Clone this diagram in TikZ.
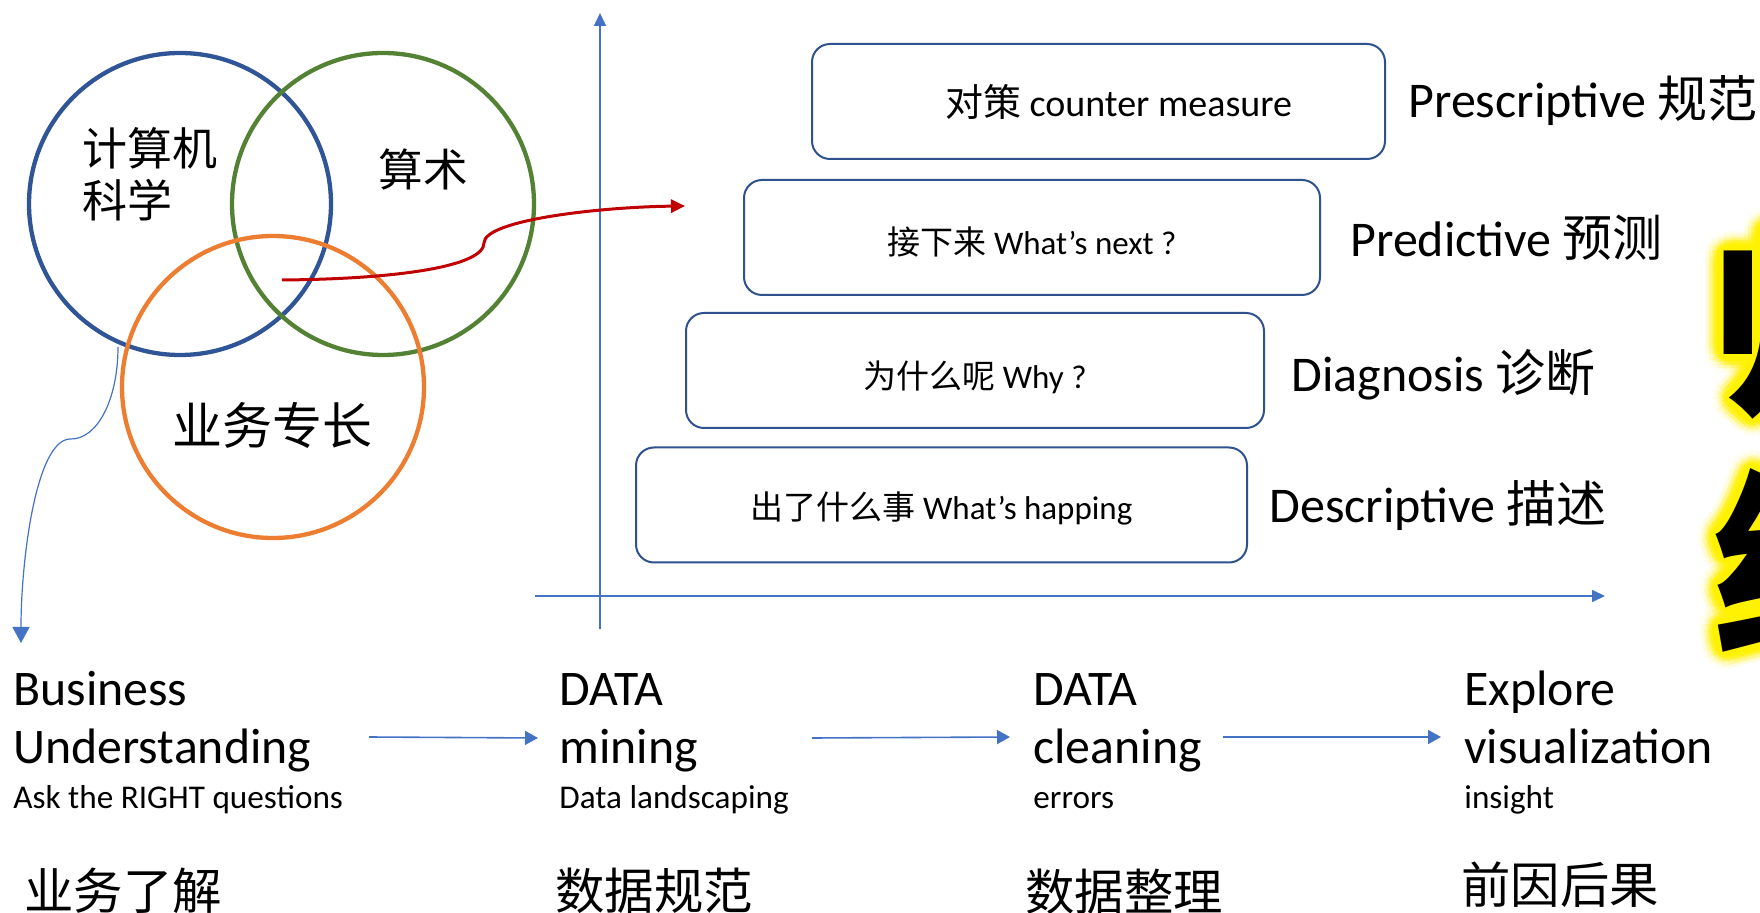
\documentclass[tikz,border=0pt]{standalone}
\usepackage{fontspec}
\setmainfont{Carlito}
\newfontfamily\cjk{Noto Sans CJK SC}
\usetikzlibrary{arrows.meta,calc}
\newcommand\pxf[2]{\fontsize{#1pt}{#2pt}\selectfont}
\newcommand\bl[2]{\raisebox{-#1pt}[0pt][0pt]{#2}}
\definecolor{vblue}{HTML}{2F5597}
\definecolor{vgreen}{HTML}{548235}
\definecolor{vorange}{HTML}{ED7D31}
\definecolor{vred}{HTML}{C00000}
\definecolor{ablue}{HTML}{4472C4}
\definecolor{bxblue}{HTML}{2F528F}
\newcommand\glowchar[2]{%
  \foreach \r/\o in {19/0.06,15/0.12,11/0.25,7/0.5,3.5/1}{%
    \foreach \a in {0,22.5,...,337.5}{%
      \node[glyph,text=yellow,text opacity=\o] at ($(#1)+(\a:\r)$) {#2};
    }%
  }%
  \node[glyph] at (#1) {#2};
}
\begin{document}
\begin{tikzpicture}[x=0.5pt,y=-0.5pt,
  venn/.style={circle,draw,line width=2.15pt,minimum size=151pt,inner sep=0pt},
  boxstyle/.style={draw=bxblue,line width=1pt,rounded corners=9pt,minimum height=57.5pt,inner sep=0pt,font=\pxf{16.5}{20}},
  rlabel/.style={anchor=base west,inner sep=0pt,font=\pxf{25}{30}},
  big/.style={anchor=base west,inner sep=0pt,font=\pxf{24.9}{29}},
  small/.style={anchor=base west,inner sep=0pt,font=\pxf{16.6}{19}},
  cjkbig/.style={inner sep=0pt,font=\cjk\pxf{24.7}{30}},
  axis/.style={ablue,line width=0.75pt,-{Triangle[length=6.5pt,width=6pt]}},
  flow/.style={ablue,line width=0.8pt,-{Triangle[length=6.5pt,width=7pt]}},
  glyph/.style={anchor=base west,inner sep=0pt,font=\cjk\bfseries\pxf{100}{100}}]
\useasboundingbox (0,0) rectangle (1760,913);
\fill[white] (0,0) rectangle (1760,913);

% glowing characters at right edge
\coordinate (g1) at (1713,398);
\coordinate (g2) at (1713,640);
\glowchar{g1}{归}
\glowchar{g2}{纳}

% Venn circles
\node[venn,draw=vblue] (cs) at (180,204) {};
\node[venn,draw=vgreen] (math) at (383,204) {};
\node[venn,draw=vorange] (biz) at (273,387) {};
\node[inner sep=0pt,align=left,font=\cjk\pxf{22.5}{26}] (tcs) at (150,174) {计算机\\科学};
\node[inner sep=0pt,font=\cjk\pxf{22.3}{26}] (tmath) at (423,169) {算术};
\node[inner sep=0pt,font=\cjk\pxf{25}{30}] (tbiz) at (272,425) {业务专长};

% axes
\coordinate (yb) at (600,629);
\coordinate (yt) at (600,13);
\coordinate (xl) at (535,596);
\coordinate (xr) at (1605,596);
\draw[axis] (yb) -- (yt);
\draw[axis] (xl) -- (xr);

% boxes
\node[boxstyle,minimum width=286.5pt,font=\pxf{19}{22}] (b1) at (1098.5,101.5) {\bl{7.75}{\hspace*{20pt}{\cjk 对策} counter measure}};
\node[boxstyle,minimum width=288pt] (b2) at (1032,237.5) {\bl{8.75}{{\cjk 接下来} What’s next ?}};
\node[boxstyle,minimum width=289pt] (b3) at (975,370.5) {\bl{9.25}{{\cjk 为什么呢} Why ?}};
\node[boxstyle,minimum width=305.5pt] (b4) at (941.5,505) {\bl{7.5}{{\cjk 出了什么事} What’s happing}};

% right labels
\node[rlabel] (l1) at (1408,118) {Prescriptive {\cjk 规范}};
\node[rlabel] (l2) at (1350,257) {Predictive {\cjk 预测}};
\node[rlabel] (l3) at (1291,392) {Diagnosis {\cjk 诊断}};
\node[rlabel] (l4) at (1269,523) {Descriptive {\cjk 描述}};

% red arrow
\coordinate (rs) at (282,280);
\coordinate (re) at (685,206);
\draw[vred,line width=1.5pt,-{Triangle[length=7pt,width=6.5pt]}] (rs) .. controls (400,279) and (484,266) .. (484,243) .. controls (484,220) and (600,207) .. (re);

% thin blue arrow
\coordinate (bs) at (118,347);
\coordinate (be) at (21,643);
\draw[ablue,line width=0.6pt,-{Triangle[length=8pt,width=8.5pt]}] (bs) .. controls (118,400) and (97,440) .. (70,439) .. controls (36,440) and (21,560) .. (be);

% bottom columns
\node[big] (c1a) at (13,705) {Business};
\node[big] (c1b) at (13,763) {Understanding};
\node[small] (c1c) at (13,808) {Ask the RIGHT questions};
\node[cjkbig] (c1d) at (123,891) {业务了解};

\node[big] (c2a) at (559,705) {DATA};
\node[big] (c2b) at (559,763) {mining};
\node[small] (c2c) at (559,808) {Data landscaping};
\node[cjkbig] (c2d) at (654,891) {数据规范};

\node[big] (c3a) at (1033,705) {DATA};
\node[big] (c3b) at (1033,763) {cleaning};
\node[small] (c3c) at (1033,808) {errors};
\node[cjkbig] (c3d) at (1124,892) {数据整理};

\node[big] (c4a) at (1464,705) {Explore};
\node[big] (c4b) at (1464,763) {visualization};
\node[small] (c4c) at (1464,808) {insight};
\node[cjkbig] (c4d) at (1560,885) {前因后果};

\coordinate (f1s) at (369,737);
\coordinate (f1e) at (538,738);
\coordinate (f2s) at (812,738);
\coordinate (f2e) at (1010,737);
\coordinate (f3s) at (1223,737);
\coordinate (f3e) at (1441,737);
\draw[flow] (f1s) -- (f1e);
\draw[flow] (f2s) -- (f2e);
\draw[flow] (f3s) -- (f3e);
\end{tikzpicture}
\end{document}
